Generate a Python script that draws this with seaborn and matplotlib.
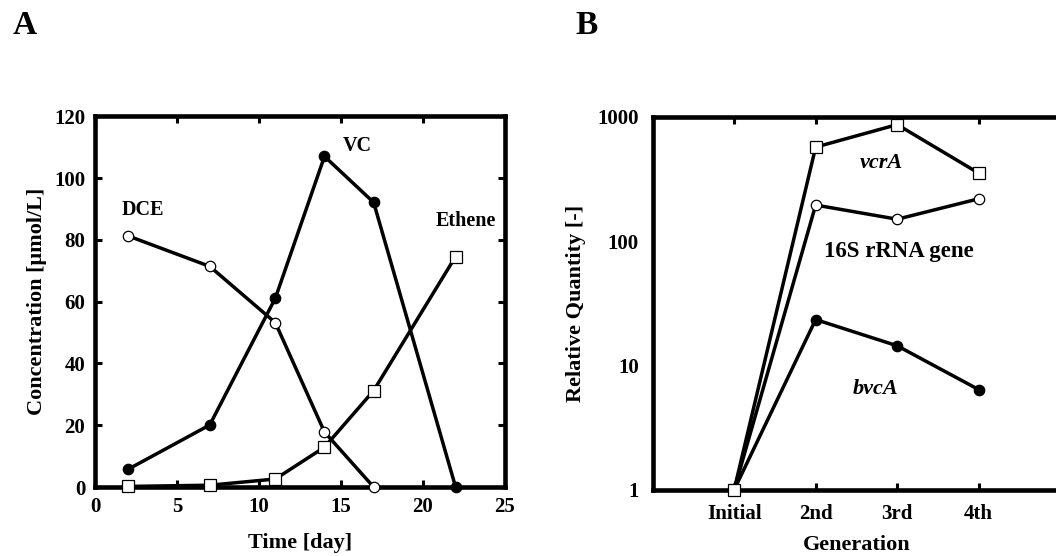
"""Two panels: chloroethene time course (A) and relative gene quantity per generation (B)."""

import matplotlib
matplotlib.use("Agg")
import matplotlib.pyplot as plt
import matplotlib.ticker as mticker
import seaborn as sns

# Panel A: concentrations [umol/L] over time [day]
time_dce = [2, 7, 11, 14, 17]
dce = [81.3, 71.4, 53.2, 17.8, 0.0]
time_vc = [2, 7, 11, 14, 17, 22]
vc = [5.7, 20.1, 61.1, 107.0, 92.1, 0.0]
time_eth = [2, 7, 11, 14, 17, 22]
ethene = [0.2, 0.6, 2.6, 12.9, 31.2, 74.6]

# Panel B: relative quantity per generation
generations = ["Initial", "2nd", "3rd", "4th"]
rrna_16s = [1, 195, 150, 219]
bvca = [1, 23.4, 14.4, 6.4]
vcra = [1, 570, 865, 352]

sns.set_theme(style="ticks")
plt.rcParams["font.family"] = ["Liberation Serif", "DejaVu Serif"]
plt.rcParams["font.weight"] = "bold"
plt.rcParams["axes.labelweight"] = "bold"
for key in ("text.color", "axes.labelcolor", "xtick.color", "ytick.color",
            "axes.edgecolor"):
    plt.rcParams[key] = "black"

fig = plt.figure(figsize=(10.56, 5.56), dpi=100)
ax_a = fig.add_axes([0.090, 0.124, 0.388, 0.667])
ax_b = fig.add_axes([0.618, 0.119, 0.386, 0.671])

line_kw = dict(color="black", linewidth=2.5, markeredgecolor="black",
               markeredgewidth=0.9, clip_on=False, zorder=3)

# ---- Panel A ----
sns.lineplot(x=time_dce, y=dce, ax=ax_a, marker="o", markersize=7.5,
             markerfacecolor="white", **line_kw)
sns.lineplot(x=time_vc, y=vc, ax=ax_a, marker="o", markersize=7.5,
             markerfacecolor="black", **line_kw)
sns.lineplot(x=time_eth, y=ethene, ax=ax_a, marker="s", markersize=8,
             markerfacecolor="white", **line_kw)

ax_a.set_xlim(0, 25)
ax_a.set_ylim(0, 120)
ax_a.xaxis.set_major_locator(mticker.MultipleLocator(5))
ax_a.yaxis.set_major_locator(mticker.MultipleLocator(20))
ax_a.set_xlabel("Time [day]", fontsize=16, labelpad=12)
ax_a.set_ylabel("Concentration [μmol/L]", fontsize=16, labelpad=5)
ax_a.tick_params(direction="in", length=5, width=2.2, top=True, right=True,
                 labelsize=15, pad=7)

ax_a.text(2.95, 89.6, "DCE", ha="center", va="center", fontsize=14.5, fontweight="bold")
ax_a.text(16.0, 110.5, "VC", ha="center", va="center", fontsize=14.5, fontweight="bold")
ax_a.text(22.6, 86.1, "Ethene", ha="center", va="center", fontsize=14.5, fontweight="bold")

# ---- Panel B ----
sns.lineplot(x=generations, y=rrna_16s, ax=ax_b, marker="o", markersize=7.5,
             markerfacecolor="white", sort=False, **line_kw)
sns.lineplot(x=generations, y=bvca, ax=ax_b, marker="o", markersize=7.5,
             markerfacecolor="black", sort=False, **line_kw)
sns.lineplot(x=generations, y=vcra, ax=ax_b, marker="s", markersize=8,
             markerfacecolor="white", sort=False, **line_kw)

ax_b.set_yscale("log")
ax_b.set_ylim(1, 1000)
ax_b.set_xlim(-1, 4)
ax_b.yaxis.set_major_locator(mticker.FixedLocator([1, 10, 100, 1000]))
ax_b.yaxis.set_major_formatter(mticker.FuncFormatter(lambda v, _: f"{v:g}"))
ax_b.yaxis.set_minor_locator(mticker.NullLocator())
ax_b.set_xlabel("Generation", fontsize=16, labelpad=8)
ax_b.set_ylabel("Relative Quantity [-]", fontsize=16, labelpad=8)
ax_b.tick_params(axis="x", direction="in", length=5, width=2.2, top=True,
                 labelsize=15, pad=10)
ax_b.tick_params(axis="y", length=0, labelsize=15, pad=10)

ax_b.text(1.81, 424, "vcrA", ha="center", va="center", fontsize=16,
          fontweight="bold", fontstyle="italic")
ax_b.text(2.02, 83, "16S rRNA gene", ha="center", va="center", fontsize=16.5,
          fontweight="bold")
ax_b.text(1.74, 6.5, "bvcA", ha="center", va="center", fontsize=16,
          fontweight="bold", fontstyle="italic")

for ax in (ax_a, ax_b):
    for spine in ax.spines.values():
        spine.set_visible(True)
        spine.set_linewidth(3.3)
        spine.set_color("black")
    ax.grid(False)

fig.text(0.012, 0.955, "A", fontsize=24, fontweight="bold", va="center", ha="left")
fig.text(0.545, 0.955, "B", fontsize=24, fontweight="bold", va="center", ha="left")

fig.savefig("out.png", dpi=100)
